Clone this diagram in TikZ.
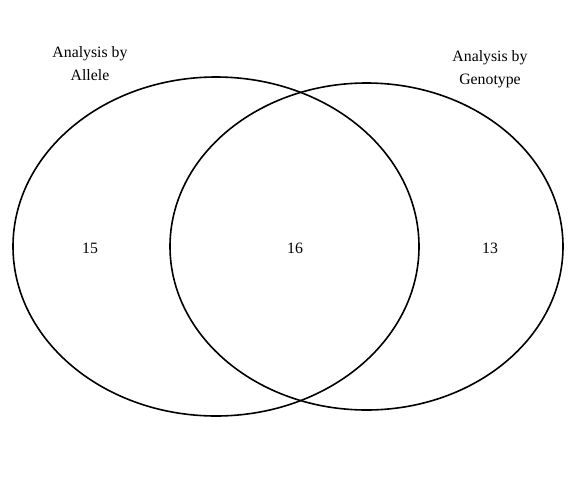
\documentclass[tikz,border=0pt]{standalone}
\usepackage{fontspec}
\setmainfont{Liberation Serif}
\begin{document}
\begin{tikzpicture}[x=1pt,y=-1pt,
  setline/.style={line width=1.6pt},
  lbl/.style={font=\fontsize{15.8}{23}\selectfont, align=center, inner sep=0pt},
  num/.style={font=\fontsize{15.8}{18}\selectfont, inner sep=0pt}]
\useasboundingbox[fill=white] (0,0) rectangle (576,480);
\draw[setline] (216,246.5) ellipse [x radius=203, y radius=169.5];
\draw[setline] (366.5,246.5) ellipse [x radius=196.5, y radius=163.5];
\node[lbl] (allele) at (90,64) {Analysis by\\Allele};
\node[lbl] (geno) at (490,69) {Analysis by\\Genotype};
\node[num] (a) at (90,248) {15};
\node[num] (ab) at (295,248) {16};
\node[num] (b) at (490,248) {13};
\end{tikzpicture}
\end{document}
